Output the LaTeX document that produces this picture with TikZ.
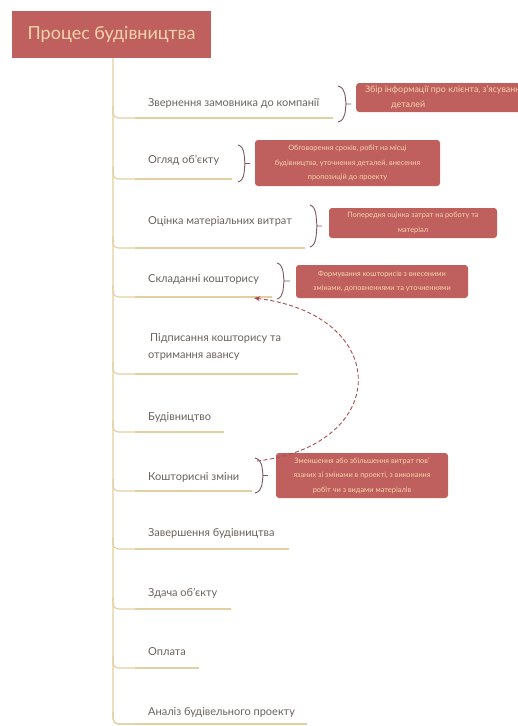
\documentclass[tikz,border=0pt]{standalone}
\usepackage{fontspec}
\setmainfont{Lato}
\usetikzlibrary{arrows.meta}
\definecolor{boxred}{HTML}{C0605E}
\definecolor{peach}{HTML}{F4D4AC}
\definecolor{tanline}{HTML}{E2D0A0}
\definecolor{txtgray}{HTML}{6B625C}
\definecolor{brk}{HTML}{7E5565}
\definecolor{dashred}{HTML}{A9504E}
\tikzset{
  stepname/.style={anchor=west, text=txtgray, font=\fontsize{11}{17}\selectfont, inner sep=0pt, align=left},
  note/.style={fill=boxred, rounded corners=3pt, text=peach, font=\fontsize{7.4}{14.5}\selectfont, align=center, inner sep=0pt},
  stem/.style={draw=tanline, line width=1.1pt},
  uline/.style={draw=tanline, line width=2.6pt},
  bracepath/.style={draw=brk, line width=0.9pt},
  backarrow/.style={draw=dashred, line width=0.9pt, dash pattern=on 4pt off 2.5pt, -{Stealth[length=6pt,width=5pt]}},
  titlebox/.style={fill=boxred, text=peach, font=\fontsize{18}{22}\selectfont, minimum width=199pt, minimum height=47pt, inner sep=0pt}
}
\newcommand{\mybrace}[5]{% left x, top, bottom, mid x, tick end
  \draw[bracepath] (#1,#2) .. controls (#4,{#2+2}) and ({#4-1},{(#2+#3)/2-7}) .. (#4,{(#2+#3)/2}) -- (#5,{(#2+#3)/2});
  \draw[bracepath] (#4,{(#2+#3)/2}) .. controls ({#4-1},{(#2+#3)/2+7}) and (#4,{#3-2}) .. (#1,#3);
}
\begin{document}
\begin{tikzpicture}[x=1pt,y=-1pt]
\useasboundingbox[fill=white] (0,0) rectangle (518,726);

% title
\node[titlebox] (title) at (111.5,34.5) {Процес будівництва};

% main stem
\coordinate (stemtop) at (113,58);
\coordinate (u11) at (307,724);
\draw[stem, rounded corners=6pt] (stemtop) |- (u11);

% steps
\foreach \i/\ty/\uy/\ue/\txt in {
  1/103/118/333/{Звернення замовника до компанії},
  2/160/179/232/{Огляд об’єкту},
  3/221/248/305/{Оцінка матеріальних витрат},
  4/279/297/272/{Складанні кошторису},
  5/347/374/298/{\hspace*{2pt}Підписання кошторису та\\отримання авансу},
  6/417/432/224/{Будівництво},
  7/477/491/252/{Кошторисні зміни},
  8/533/549/289/{Завершення будівництва},
  9/593/609/231/{Здача об’єкту},
  10/652/668/199/{Оплата},
  11/712/724/307/{Аналіз будівельного проекту}}{
  \node[stepname] (s\i) at (148,\ty) {\txt};
  \coordinate (u\i) at (\ue,\uy);
  \coordinate (a\i) at (135,\uy);
  \draw[stem, rounded corners=5pt] (113,{\uy-12}) |- (u\i);
  \draw[uline] (a\i) -- (u\i);
}

% braces
\mybrace{338}{86}{122}{346}{351}
\mybrace{238}{145}{182}{245}{250}
\mybrace{310}{205}{247}{317}{322}
\mybrace{277}{263}{299}{284}{290}
\mybrace{255}{458}{493}{263}{268}

% notes
\node[note, anchor=west, align=left, minimum height=29pt, inner xsep=9pt,
      font=\fontsize{8.9}{14.5}\selectfont] (n1) at (356,97.5)
  {Збір інформації про клієнта, з’ясування\\\hspace*{26pt}деталей};
\node[note, minimum width=185pt, minimum height=46pt] (n2) at (347.5,163)
  {Обговорення сроків, робіт на місці\\будівництва, уточнення деталей, внесення\\пропозицій до проекту};
\node[note, minimum width=168pt, minimum height=30pt] (n3) at (413,223)
  {Попередня оцінка затрат на роботу та\\матеріал};
\node[note, minimum width=172pt, minimum height=33pt] (n4) at (382,281.5)
  {Формування кошторисів з внесеними\\змінами, доповненнями та уточненнями};
\node[note, minimum width=172pt, minimum height=45pt] (n7) at (362,475.5)
  {Зменшення або збільшення витрат пов’\\язаних зі змінами в проекті, з виконання\\робіт чи з видами матеріалів};

% dashed feedback arrow
\coordinate (fb) at (257,461);
\coordinate (ft) at (254,298);
\draw[backarrow] (fb) .. controls (392,445) and (392,315) .. (ft);
\end{tikzpicture}
\end{document}
